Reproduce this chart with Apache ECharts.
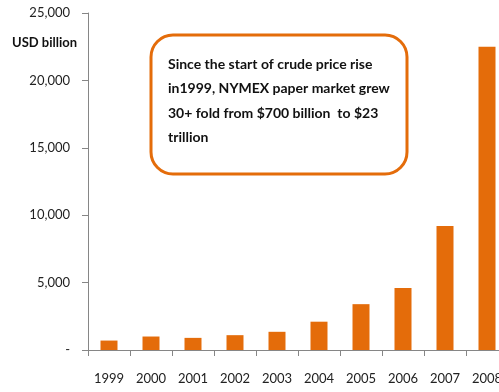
<!DOCTYPE html>
<html>
<head>
<meta charset="utf-8">
<script src="https://cdn.jsdelivr.net/npm/echarts@6/dist/echarts.min.js"></script>
<style>html,body{margin:0;padding:0;background:#fff}#c{width:499px;height:392px}</style>
</head>
<body>
<div id="c"></div>
<script>
var years = ['1999','2000','2001','2002','2003','2004','2005','2006','2007','2008'];
var values = [700, 1000, 900, 1100, 1350, 2100, 3400, 4600, 9200, 22500];
var yTicks = [0, 5000, 10000, 15000, 20000, 25000];
var unitLabel = 'USD billion';
var noteLines = [
  'Since the start of crude price rise',
  'in1999, NYMEX paper market grew',
  '30+ fold from $700 billion  to $23',
  'trillion'
];

var FONT = 'Lato';
var chart = echarts.init(document.getElementById('c'), null, {renderer: 'canvas'});
chart.setOption({
  animation: false,
  backgroundColor: '#fff',
  grid: {left: 88, top: 13, right: -9, bottom: 42, containLabel: false, outerBoundsMode: 'none'},
  xAxis: {
    type: 'category',
    data: years,
    boundaryGap: true,
    axisLine: {lineStyle: {color: '#868686', width: 1}},
    axisTick: {show: true, length: 6, lineStyle: {color: '#868686'}},
    axisLabel: {color: '#222', fontFamily: FONT, fontSize: 13, margin: 22, hideOverlap: false}
  },
  yAxis: {
    type: 'value',
    min: yTicks[0],
    max: yTicks[yTicks.length - 1],
    interval: yTicks[1] - yTicks[0],
    splitLine: {show: false},
    axisLine: {show: true, lineStyle: {color: '#868686', width: 1}},
    axisTick: {show: true, length: 6, lineStyle: {color: '#868686'}},
    axisLabel: {
      color: '#222', fontFamily: FONT, fontSize: 13, margin: 18,
      formatter: function (v) { return v === 0 ? '-' : v.toLocaleString('en-US'); }
    }
  },
  series: [{
    type: 'bar',
    data: values,
    barWidth: 17,
    itemStyle: {color: '#E46C0A'}
  }],
  graphic: [
    {
      type: 'text', left: 12, top: 36,
      style: {text: unitLabel, fill: '#111', font: 'bold 13px ' + FONT}
    },
    {
      type: 'rect', shape: {x: 151, y: 35, width: 256, height: 139, r: 22},
      style: {fill: '#fff', stroke: '#E46C0A', lineWidth: 3}
    },
    {
      type: 'text', left: 168, top: 52,
      style: {text: noteLines.join('\n'), fill: '#111', font: 'bold 14px ' + FONT, lineHeight: 24.5}
    }
  ]
});
</script>
</body>
</html>
